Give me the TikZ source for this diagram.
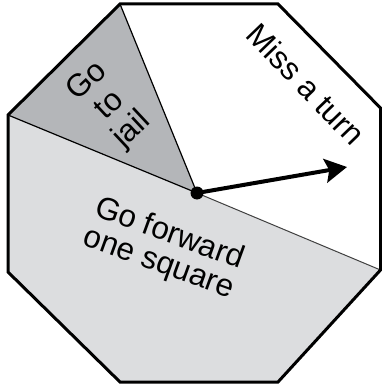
\documentclass[tikz,border=0pt]{standalone}
\usepackage{fontspec}
\setmainfont{Liberation Sans}
\usetikzlibrary{arrows.meta}
\definecolor{jailgray}{RGB}{180,182,185}
\definecolor{fwdgray}{RGB}{220,221,223}
\begin{document}
\begin{tikzpicture}[x=1pt,y=-1pt,
  spinlabel/.style={font=\fontsize{31.5}{31}\selectfont, align=center, inner sep=0pt},
  rim/.style={line width=3pt, line join=miter},
  divider/.style={line width=1.2pt}]
\useasboundingbox (0,0) rectangle (382,385);
% octagon corners and the spinner hub
\coordinate (C)  at (197,193);
\coordinate (P1) at (120,4);
\coordinate (P2) at (278,4);
\coordinate (P3) at (380.5,108);
\coordinate (P4) at (380.5,270);
\coordinate (P5) at (278,382);
\coordinate (P6) at (120,382);
\coordinate (P7) at (8,272);
\coordinate (P8) at (8,115);
\coordinate (T)  at (347,167);
% sectors
\fill[fwdgray] (C) -- (P4) -- (P5) -- (P6) -- (P7) -- (P8) -- cycle;
\fill[jailgray] (C) -- (P8) -- (P1) -- cycle;
\draw[divider] (P8) -- (C) -- (P1);
\draw[divider, line width=1pt, black!75] (C) -- (P4);
% rim
\draw[rim] (P1) -- (P2) -- (P3) -- (P4) -- (P5) -- (P6) -- (P7) -- (P8) -- cycle;
% pointer
\draw[line width=4pt, -{Stealth[length=22pt,width=24pt,inset=4pt]}] (C) -- (T);
\fill (C) circle (6.5);
% labels
\node[spinlabel, font=\fontsize{31.5}{33}\selectfont, rotate=43] (jail) at (110,106) {Go\\to\\jail};
\node[spinlabel, rotate=-46] (miss) at (306,84) {Miss a turn};
\node[spinlabel, rotate=-20] (fwd) at (164,249) {Go forward\\one square};
\end{tikzpicture}
\end{document}
